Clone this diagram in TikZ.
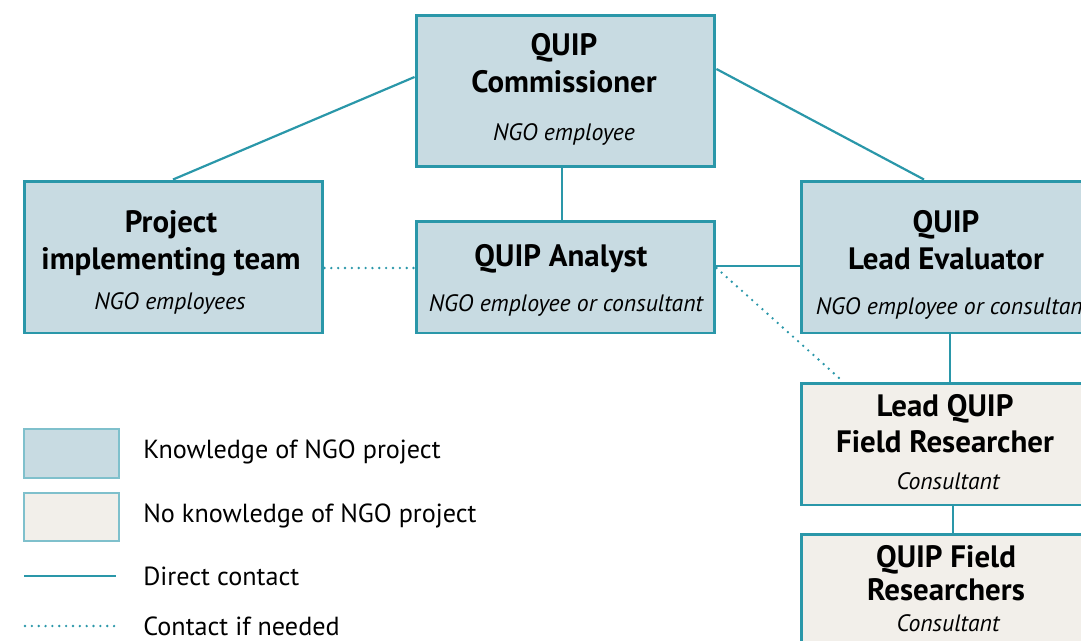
\documentclass[tikz,border=0pt]{standalone}
\usepackage{fontspec}
\setmainfont{PT Sans}
\definecolor{teal1}{HTML}{2A97A9}
\definecolor{tealL}{HTML}{7FC0CC}
\definecolor{bluef}{HTML}{C8DBE2}
\definecolor{beigef}{HTML}{F2EFEA}
\tikzset{
  box/.style={draw=teal1, line width=1.7pt, rectangle, inner sep=0pt},
  bluebox/.style={box, fill=bluef},
  beigebox/.style={box, fill=beigef},
  title/.style={anchor=base, font=\fontsize{17.6}{20}\selectfont\bfseries, inner sep=0pt},
  sub/.style={anchor=base, font=\fontsize{13.5}{16}\selectfont\itshape, inner sep=0pt},
  legtext/.style={anchor=base west, font=\fontsize{14.9}{17}\selectfont, inner sep=0pt},
  direct/.style={draw=teal1, line width=1.25pt},
  ifneeded/.style={draw=teal1, line width=1.5pt, line cap=round, dash pattern=on 0pt off 3.9pt},
  legbox/.style={draw=tealL, line width=0.9pt, rectangle, inner sep=0pt, minimum width=1.9cm, minimum height=0.97cm},
}
\begin{document}
\begin{tikzpicture}[x=0.02cm, y=-0.02cm]
\useasboundingbox (0,0) rectangle (1081,640);
\clip (0,0) rectangle (1081,640);
% boxes
\node[bluebox, minimum width=5.98cm, minimum height=3.04cm] (comm) at (565.5,91) {};
\node[bluebox, minimum width=5.98cm, minimum height=3.04cm] (proj) at (173.5,257) {};
\node[bluebox, minimum width=5.98cm, minimum height=2.24cm] (anal) at (565.5,277) {};
\node[bluebox, minimum width=5.98cm, minimum height=3.04cm] (lead) at (950.5,257) {};
\node[beigebox, minimum width=5.98cm, minimum height=2.44cm] (lfr) at (950.5,444) {};
\node[beigebox, minimum width=5.98cm, minimum height=2.44cm] (fr) at (950.5,595) {};
% texts
\node[title] (commA) at (564,55) {QUIP};
\node[title] (commB) at (564,92) {Commissioner};
\node[sub] (commC) at (564,140) {NGO employee};
\node[title] (projA) at (171,232) {Project};
\node[title] (projB) at (171,269) {implementing team};
\node[sub] (projC) at (170,309) {NGO employees};
\node[title] (analA) at (561,266) {QUIP Analyst};
\node[sub] (analC) at (566,311) {NGO employee or consultant};
\node[title] (leadA) at (946,232) {QUIP};
\node[title] (leadB) at (946,269) {Lead Evaluator};
\node[sub] (leadC) at (953,314) {NGO employee or consultant};
\node[title] (lfrA) at (945,416) {Lead QUIP};
\node[title] (lfrB) at (945,452) {Field Researcher};
\node[sub] (lfrC) at (948,489) {Consultant};
\node[title] (frA) at (946,567) {QUIP Field};
\node[title] (frB) at (946,600) {Researchers};
\node[sub] (frC) at (948,631) {Consultant};
% connectors
\draw[direct] (comm.west |- 0,77) -- (proj.north -| 173,0);
\draw[direct] (comm.east |- 0,69) -- (lead.north -| 924,0);
\draw[direct] (comm.south -| 562,0) -- (anal.north -| 562,0);
\draw[ifneeded] (proj.east |- 0,268) -- (anal.west |- 0,268);
\draw[direct] (anal.east |- 0,266) -- (lead.west |- 0,266);
\draw[ifneeded] (anal.east |- 0,268) -- (lfr.north -| 843,0);
\draw[direct] (lead.south -| 950,0) -- (lfr.north -| 950,0);
\draw[direct] (lfr.south -| 953,0) -- (fr.north -| 953,0);
% legend
\node[legbox, fill=bluef] (lg1) at (71.5,453.5) {};
\node[legbox, fill=beigef] (lg2) at (71.5,517) {};
\coordinate (l3a) at (24,576);
\coordinate (l3b) at (116,576);
\coordinate (l4a) at (25,626);
\coordinate (l4b) at (118,626);
\draw[direct] (l3a) -- (l3b);
\draw[ifneeded] (l4a) -- (l4b);
\node[legtext] (t1) at (143,458) {Knowledge of NGO project};
\node[legtext] (t2) at (143,522) {No knowledge of NGO project};
\node[legtext] (t3) at (143,585) {Direct contact};
\node[legtext] (t4) at (143,635) {Contact if needed};
\end{tikzpicture}
\end{document}
